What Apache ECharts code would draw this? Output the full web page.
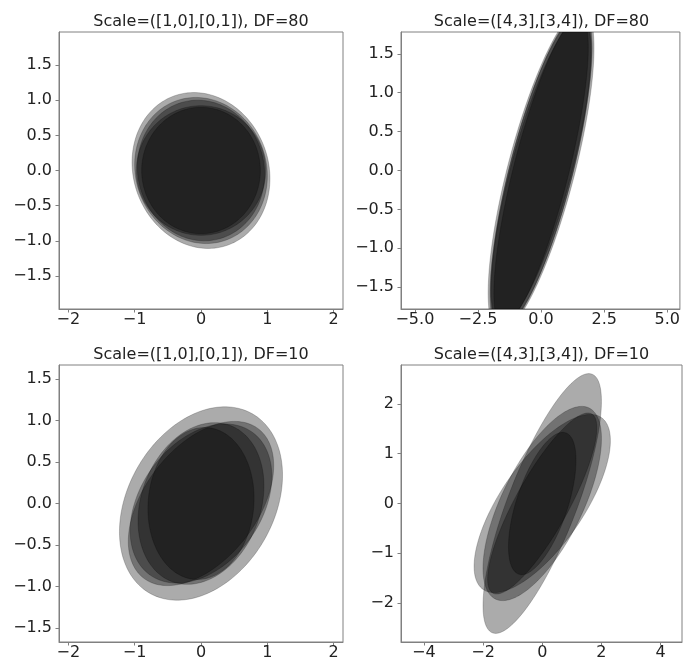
<!DOCTYPE html>
<html>
<head>
<meta charset="utf-8">
<script src="https://cdn.jsdelivr.net/npm/echarts@6/dist/echarts.min.js"></script>
<style>
  html, body { margin: 0; padding: 0; background: #fff; }
  #chart { width: 683px; height: 661px; }
</style>
</head>
<body>
<div id="chart"></div>
<script>
// panel titles
var titles = [
  'Scale=([1,0],[0,1]), DF=80',
  'Scale=([4,3],[3,4]), DF=80',
  'Scale=([1,0],[0,1]), DF=10',
  'Scale=([4,3],[3,4]), DF=10'
];

// tick values per panel
var xTicks = [[-2, -1, 0, 1, 2], [-5, -2.5, 0, 2.5, 5], [-2, -1, 0, 1, 2], [-4, -2, 0, 2, 4]];
var yTicks = [
  [-1.5, -1, -0.5, 0, 0.5, 1, 1.5],
  [-1.5, -1, -0.5, 0, 0.5, 1, 1.5],
  [-1.5, -1, -0.5, 0, 0.5, 1, 1.5],
  [-2, -1, 0, 1, 2]
];
var xDecimals = [0, 1, 0, 0];
var yDecimals = [1, 1, 1, 0];
var xRanges = [[-2.14, 2.14], [-5.55, 5.5], [-2.14, 2.14], [-4.77, 4.72]];
var yRanges = [[-1.97, 1.97], [-1.78, 1.78], [-1.67, 1.67], [-2.78, 2.78]];

// sampled matrices [sxx, sxy, syy], one ellipse each
var ellipsesDF80I = [[1.08, -0.12, 1.23], [1.0, -0.08, 1.08], [0.92, -0.05, 1.0], [0.95, 0.0, 0.85], [0.8, 0.0, 0.81]];
var ellipsesDF80S = [[4.4, 3.3, 4.3], [4.1, 3.2, 4.2], [3.9, 3.0, 4.0], [4.0, 3.1, 3.9], [3.5, 2.95, 3.9]];
var ellipsesDF10I = [[1.51, 0.42, 1.36], [1.2, 0.5, 0.98], [1.14, 0.35, 0.92], [0.9, 0.2, 0.95], [0.64, 0.05, 0.84]];
var ellipsesDF10S = [[4.0, 4.1, 6.8], [5.3, 2.9, 3.2], [4.0, 2.6, 3.8], [3.4, 2.8, 3.3], [1.3, 0.99, 2.04]];
var panels = [ellipsesDF80I, ellipsesDF80S, ellipsesDF10I, ellipsesDF10S];

var font = 'DejaVu Sans';
var boxes = [
  {left: 59, top: 32, width: 284, height: 277},
  {left: 401, top: 32, width: 281, height: 277},
  {left: 59, top: 365, width: 284, height: 277},
  {left: 401, top: 365, width: 281, height: 277}
];

function fmt(d) {
  return function (v) { return Number(v).toFixed(d).replace('-', '\u2212'); };
}

// ellipse outline from the matrix (cholesky), mapped through the axes
function renderEllipse(params, api) {
  var sxx = api.value(0), sxy = api.value(1), syy = api.value(2);
  var l11 = Math.sqrt(sxx), l21 = sxy / l11, l22 = Math.sqrt(syy - l21 * l21);
  var pts = [];
  for (var k = 0; k < 160; k++) {
    var t = 2 * Math.PI * k / 160;
    var c = Math.cos(t), s = Math.sin(t);
    pts.push(api.coord([l11 * c, l21 * c + l22 * s]));
  }
  return {
    type: 'polygon',
    shape: {points: pts},
    style: {fill: 'rgba(0,0,0,0.33)', stroke: 'rgba(0,0,0,0.25)', lineWidth: 0.8}
  };
}

var chart = echarts.init(document.getElementById('chart'));
var option = {
  animation: false,
  backgroundColor: '#fff',
  title: [], grid: [], xAxis: [], yAxis: [], series: []
};

for (var i = 0; i < 4; i++) {
  var b = boxes[i];
  option.title.push({
    text: titles[i],
    left: b.left + b.width / 2,
    top: b.top - 18,
    textAlign: 'center',
    padding: 0,
    textStyle: {fontFamily: font, fontSize: 16, fontWeight: 'normal', color: '#222'}
  });
  option.grid.push({
    left: b.left, top: b.top, width: b.width, height: b.height,
    show: true, borderColor: '#808080', borderWidth: 1, backgroundColor: 'transparent'
  });
  option.xAxis.push({
    gridIndex: i, type: 'value',
    min: xRanges[i][0], max: xRanges[i][1],
    splitLine: {show: false},
    axisLine: {show: true, onZero: false, lineStyle: {color: '#808080'}},
    axisTick: {show: true, length: 3.5, customValues: xTicks[i], lineStyle: {color: '#808080'}},
    axisLabel: {customValues: xTicks[i], formatter: fmt(xDecimals[i]), margin: 3,
      fontFamily: font, fontSize: 16, color: '#222'}
  });
  option.yAxis.push({
    gridIndex: i, type: 'value',
    min: yRanges[i][0], max: yRanges[i][1],
    splitLine: {show: false},
    axisLine: {show: true, onZero: false, lineStyle: {color: '#808080'}},
    axisTick: {show: true, length: 3.5, customValues: yTicks[i], lineStyle: {color: '#808080'}},
    axisLabel: {customValues: yTicks[i], formatter: fmt(yDecimals[i]), margin: 7,
      fontFamily: font, fontSize: 16, color: '#222'}
  });
  option.series.push({
    type: 'custom',
    xAxisIndex: i, yAxisIndex: i,
    coordinateSystem: 'cartesian2d',
    clip: true,
    silent: true,
    renderItem: renderEllipse,
    data: panels[i]
  });
}

chart.setOption(option);
</script>
</body>
</html>
